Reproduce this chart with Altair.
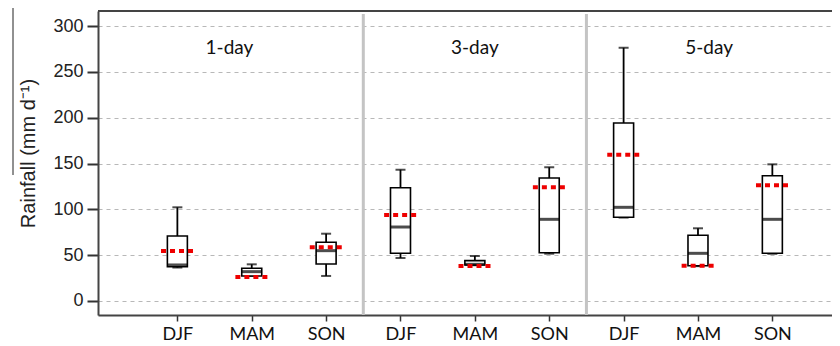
import altair as alt
import pandas as pd

durations = ["1-day", "3-day", "5-day"]
seasons = ["DJF", "MAM", "SON"]

whisker_low = [36.5, 27.3, 27.3, 46.9, 39.0, 51.6, 91.0, 38.0, 51.5]
q1 = [37.4, 27.3, 40.4, 52.0, 39.3, 52.7, 91.3, 38.5, 52.0]
median = [39.3, 32.0, 54.9, 80.7, 40.0, 89.1, 102.2, 52.0, 89.1]
q3 = [70.9, 35.7, 64.0, 123.6, 44.0, 134.2, 194.2, 71.7, 136.7]
whisker_high = [102.2, 40.0, 73.4, 143.2, 49.1, 145.9, 276.3, 79.3, 149.1]
mean = [54.5, 26.2, 58.6, 93.8, 38.2, 124.0, 159.6, 38.5, 126.2]

label_pos = [1.7, 5.0, 8.15]
label_y = [276, 276, 276]
divider_pos = [3.5, 6.5]
y_ticks = [0, 50, 100, 150, 200, 250, 300]

rows = []
for i in range(9):
    rows.append({
        "pos": i + 1,
        "duration": durations[i // 3],
        "season": seasons[i % 3],
        "low": whisker_low[i], "q1": q1[i], "median": median[i],
        "q3": q3[i], "high": whisker_high[i], "mean": mean[i],
    })
df = pd.DataFrame(rows)
labels_df = pd.DataFrame({"pos": label_pos, "y": label_y, "text": durations})
div_df = pd.DataFrame({"pos": divider_pos})

W, H = 734, 304
xscale = alt.Scale(domain=[0, W / 75.4], nice=False, zero=False)
yscale = alt.Scale(domain=[-15.3, 316.4], nice=False, zero=False)

label_arr = "[" + ",".join("'%s'" % s for s in seasons) + "]"

base = alt.Chart(df)

xaxis = alt.Axis(values=list(range(1, 10)), labelExpr=label_arr + "[(datum.value-1)%3]",
                 title=None, grid=False, domainColor="#444", domainWidth=2,
                 tickColor="#333", tickWidth=1.5, tickSize=6, labelPadding=4,
                 labelFont="Lato", labelFontSize=18, labelColor="#111")
yaxis = alt.Axis(values=y_ticks, title="Rainfall (mm d⁻¹)", grid=True,
                 gridColor="#b8b8b8", gridDash=[4, 4], gridWidth=1.2,
                 domainColor="#444", domainWidth=2, tickColor="#333", tickWidth=2,
                 tickSize=11, labelPadding=4, labelFont="Liberation Sans",
                 labelFontSize=18, labelColor="#222", titleFont="Liberation Sans",
                 titleFontSize=20, titleFontWeight="normal", titleColor="#222",
                 titlePadding=14, titleY=142)

grid_layer = base.mark_rule(opacity=0).encode(
    x=alt.X("pos:Q", scale=xscale, axis=xaxis),
    y=alt.Y("median:Q", scale=yscale, axis=yaxis),
)

dividers = alt.Chart(div_df).mark_rule(color="#c4c4c4", strokeWidth=3).encode(
    x=alt.X("pos:Q", scale=xscale), y=alt.value(3), y2=alt.value(H)
)

top_border = alt.Chart(div_df.head(1)).mark_rule(color="#444", strokeWidth=2).encode(
    x=alt.value(0), x2=alt.value(W), y=alt.value(0)
)

whiskers = base.mark_rule(color="black", strokeWidth=1.8).encode(
    x=alt.X("pos:Q", scale=xscale), y=alt.Y("low:Q", scale=yscale), y2="high:Q"
)
cap_hi = base.mark_tick(color="black", orient="horizontal", size=10, thickness=2).encode(
    x=alt.X("pos:Q", scale=xscale), y=alt.Y("high:Q", scale=yscale)
)
cap_lo = base.mark_tick(color="black", orient="horizontal", size=10, thickness=2).encode(
    x=alt.X("pos:Q", scale=xscale), y=alt.Y("low:Q", scale=yscale)
)
boxes = base.mark_bar(fill="white", stroke="black", strokeWidth=1.6, size=20).encode(
    x=alt.X("pos:Q", scale=xscale), y=alt.Y("q1:Q", scale=yscale), y2="q3:Q"
)
medians = base.mark_tick(color="black", orient="horizontal", size=20, thickness=3).encode(
    x=alt.X("pos:Q", scale=xscale), y=alt.Y("median:Q", scale=yscale)
)
means = base.transform_calculate(
    xa="datum.pos - 0.22", xb="datum.pos + 0.25"
).mark_rule(color="#ee0000", strokeWidth=4, strokeDash=[5, 4]).encode(
    x=alt.X("xa:Q", scale=xscale), x2="xb:Q", y=alt.Y("mean:Q", scale=yscale)
)

panel_labels = alt.Chart(labels_df).mark_text(
    font="Lato", fontSize=19, color="#111", align="center", baseline="middle"
).encode(x=alt.X("pos:Q", scale=xscale), y=alt.Y("y:Q", scale=yscale), text="text:N")

artifact = alt.Chart(div_df.head(1)).mark_rule(color="#222", strokeWidth=1).encode(
    x=alt.value(-85), y=alt.value(-11), y2=alt.value(164)
)

chart = alt.layer(
    grid_layer, dividers, top_border, whiskers, cap_hi, cap_lo, boxes, medians,
    means, panel_labels, artifact
).properties(
    width=W, height=H,
    autosize=alt.AutoSizeParams(type="none"),
    padding={"left": 90, "top": 3, "right": 0, "bottom": 31},
).configure_view(stroke=None).configure(background="white")

chart.save("out.html", embed_options={"renderer": "svg", "actions": False})
